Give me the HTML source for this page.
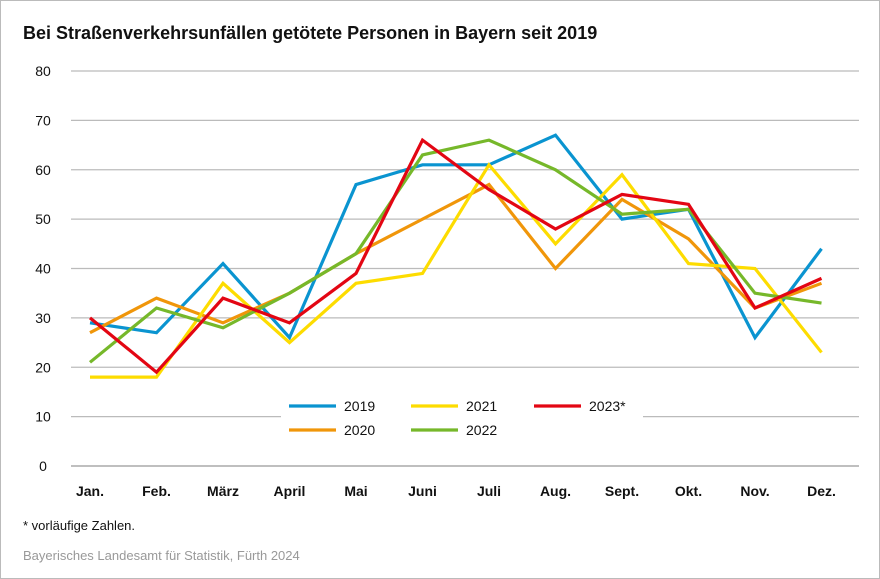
<!DOCTYPE html>
<html><head><meta charset="utf-8"><style>
body{margin:0;background:#fff;font-family:"Liberation Sans",Arial,sans-serif}
#wrap{position:relative;width:878px;height:577px;border:1px solid #bbb;overflow:hidden}
</style></head><body>
<div id="wrap">
<svg id="chart" width="878" height="577"></svg>
</div>
<script>
const months=["Jan.","Feb.","März","April","Mai","Juni","Juli","Aug.","Sept.","Okt.","Nov.","Dez."];
const yTicks=[0,10,20,30,40,50,60,70,80];
const s2019=[29,27,41,26,57,61,61,67,50,52,26,44];
const s2020=[27,34,29,35,43,50,57,40,54,46,32,37];
const s2021=[18,18,37,25,37,39,61,45,59,41,40,23];
const s2022=[21,32,28,35,43,63,66,60,51,52,35,33];
const s2023=[30,19,34,29,39,66,56,48,55,53,32,38];
const seriesNames=["2019","2020","2021","2022","2023*"];
const NS="http://www.w3.org/2000/svg";
const svg=document.getElementById('chart');
const x0=40,x1=858,yBase=465,yTop=70;
const xs=i=>89+i*66.5;
const ys=v=>yBase-(v/80)*(yBase-yTop);
function mk(t,a){const e=document.createElementNS(NS,t);for(const k in a)e.setAttribute(k,a[k]);svg.appendChild(e);return e;}
let t=mk('text',{x:22,y:38,'font-size':18,'font-weight':'bold',fill:'#111'});t.textContent="Bei Straßenverkehrsunfällen getötete Personen in Bayern seit 2019";


yTicks.forEach(v=>{
 const l=mk('line',{x1:x0+30,x2:x1,y1:ys(v),y2:ys(v),stroke:v===0?'#999':'#bbb','stroke-width':1.2});
 
 
 const tx=mk('text',{x:42,y:ys(v)+5,'font-size':14,'text-anchor':'middle',fill:'#111'});tx.textContent=v;
 
 
});
months.forEach((m,i)=>{
 const tx=mk('text',{x:xs(i),y:495,'font-size':14,'font-weight':'bold','text-anchor':'middle',fill:'#111'});tx.textContent=m;
 
 
});
const cols={"2019":"#0a94d0","2020":"#f0960a","2021":"#fddc00","2022":"#76b82a","2023*":"#e30613"};
const data={"2019":s2019,"2020":s2020,"2021":s2021,"2022":s2022,"2023*":s2023};
const order=["2019","2020","2021","2022","2023*"];
order.forEach(n=>{
 const p=mk('polyline',{points:data[n].map((v,i)=>xs(i)+','+ys(v)).join(' '),fill:'none',stroke:cols[n],'stroke-width':3.2,'stroke-linejoin':'miter'});
 
 
});
const bg=mk('rect',{x:280,y:390,width:362,height:50,fill:'#fff'});


const legPos={"2019":[288,405],"2021":[410,405],"2023*":[533,405],"2020":[288,429],"2022":[410,429]};
order.forEach(n=>{
 const [lx,ly]=legPos[n];
 const l=mk('line',{x1:lx,x2:lx+47,y1:ly,y2:ly,stroke:cols[n],'stroke-width':3.2});
 
 
 const tx=mk('text',{x:lx+55,y:ly+5,'font-size':14,fill:'#111'});tx.textContent=n;
 
 
});
t=mk('text',{x:22,y:529,'font-size':13,fill:'#111'});t.textContent="* vorläufige Zahlen.";


t=mk('text',{x:22,y:559,'font-size':13,fill:'#999'});t.textContent="Bayerisches Landesamt für Statistik, Fürth 2024";


</script>
</body></html>
